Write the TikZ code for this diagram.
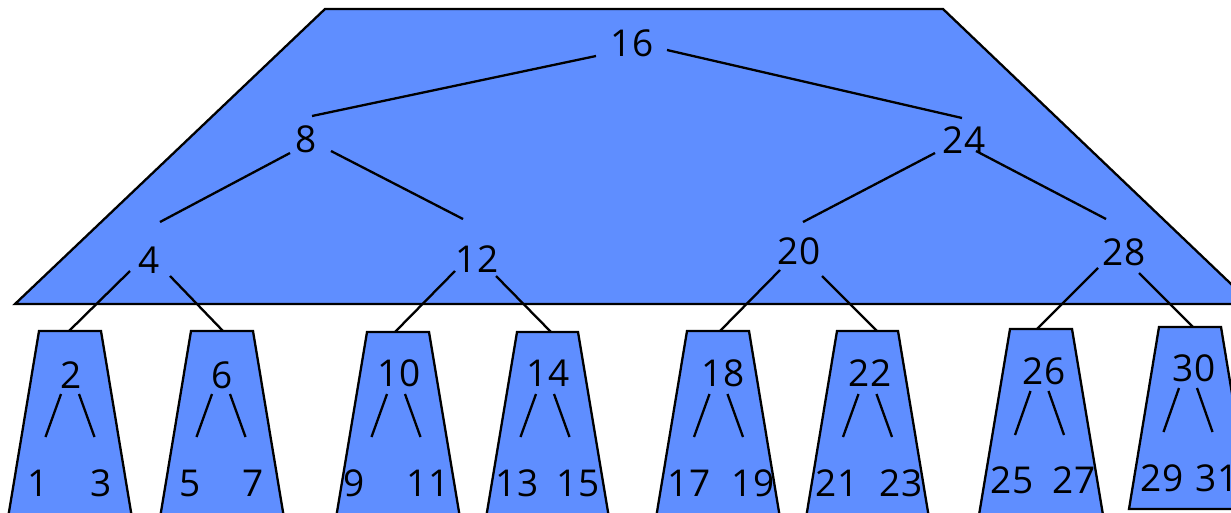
\documentclass[tikz,border=0pt]{standalone}
\usepackage{fontspec}
\setmainfont{Open Sans}
\definecolor{treeblue}{RGB}{95,142,255}

\begin{document}
\begin{tikzpicture}[x=1pt,y=-1pt,line width=2.3pt,
  part/.style={fill=treeblue,draw=black},
  key/.style={font=\fontsize{37}{42}\selectfont,inner sep=0pt}]
\clip (0,0) rectangle (1231,512);

% upper part of the tree
\filldraw[part] (325,9) -- (943,9) -- (1252,304) -- (15,304) -- cycle;

% lower parts
\filldraw[part] (39,331) -- (101,331) -- (132.5,521) -- (7.5,521) -- cycle;
\filldraw[part] (191,331) -- (253,331) -- (284.5,521) -- (159.5,521) -- cycle;
\filldraw[part] (367,332) -- (429,332) -- (460.5,521) -- (335.5,521) -- cycle;
\filldraw[part] (517,332) -- (578,332) -- (609.5,521) -- (485.5,521) -- cycle;
\filldraw[part] (687,331) -- (749,331) -- (780.5,521) -- (655.5,521) -- cycle;
\filldraw[part] (837,331) -- (898,331) -- (929.5,521) -- (805.5,521) -- cycle;
\filldraw[part] (1010,329) -- (1072,329) -- (1104,521) -- (978,521) -- cycle;
\filldraw[part] (1159,327) -- (1221,327) -- (1251,509) -- (1129,509) -- cycle;

\coordinate (t2) at (69,331);
\coordinate (t6) at (223,331);
\coordinate (t10) at (395,332);
\coordinate (t14) at (551,332);
\coordinate (t18) at (720,331);
\coordinate (t22) at (877,331);
\coordinate (t26) at (1037,329);
\coordinate (t30) at (1193,327);

\node[key] (n16) at (632,43) {16};
\node[key] (n8) at (306,139) {8};
\node[key] (n24) at (964,140) {24};
\node[key] (n4) at (149,260) {4};
\node[key] (n12) at (477,259) {12};
\node[key] (n20) at (799,251) {20};
\node[key] (n28) at (1124,252) {28};

\draw ([shift={(-36,13)}]n16.center) -- ([shift={(6,-23)}]n8.center);
\draw ([shift={(35,7)}]n16.center) -- ([shift={(-2,-22)}]n24.center);
\draw ([shift={(-16,14)}]n8.center) -- ([shift={(11,-38)}]n4.center);
\draw ([shift={(25,12)}]n8.center) -- ([shift={(-14,-40)}]n12.center);
\draw ([shift={(-29,13)}]n24.center) -- ([shift={(4,-29)}]n20.center);
\draw ([shift={(12,11)}]n24.center) -- ([shift={(-18,-33)}]n28.center);
\draw ([shift={(-19,11)}]n4.center) -- (t2);
\draw ([shift={(21,16)}]n4.center) -- (t6);
\draw ([shift={(-22,12)}]n12.center) -- (t10);
\draw ([shift={(19,17)}]n12.center) -- (t14);
\draw ([shift={(-19,19)}]n20.center) -- (t18);
\draw ([shift={(23,25)}]n20.center) -- (t22);
\draw ([shift={(-26,16)}]n28.center) -- (t26);
\draw ([shift={(15,21)}]n28.center) -- (t30);

% small trees
\node[key] (n2) at (71,375) {2};
\node[key] (n1) at (38,483) {1};
\node[key] (n3) at (101,483) {3};
\draw ([shift={(-10,19)}]n2.center) -- ([shift={(7.5,-46)}]n1.center);
\draw ([shift={(8,19)}]n2.center) -- ([shift={(-6.5,-46)}]n3.center);

\node[key] (n6) at (222,375) {6};
\node[key] (n5) at (190,483) {5};
\node[key] (n7) at (253,483) {7};
\draw ([shift={(-10,19)}]n6.center) -- ([shift={(6.5,-46)}]n5.center);
\draw ([shift={(8,19)}]n6.center) -- ([shift={(-7.5,-46)}]n7.center);

\node[key] (n10) at (399,373) {10};
\node[key] (n9) at (354,483) {9};
\node[key] (n11) at (428,483) {11};
\draw ([shift={(-12,21)}]n10.center) -- ([shift={(17.5,-46)}]n9.center);
\draw ([shift={(6,21)}]n10.center) -- ([shift={(-7.5,-46)}]n11.center);

\node[key] (n14) at (548,373) {14};
\node[key] (n13) at (517,483) {13};
\node[key] (n15) at (578,483) {15};
\draw ([shift={(-12,21)}]n14.center) -- ([shift={(3.5,-46)}]n13.center);
\draw ([shift={(6,21)}]n14.center) -- ([shift={(-8.5,-46)}]n15.center);

\node[key] (n18) at (723,373) {18};
\node[key] (n17) at (689,483) {17};
\node[key] (n19) at (753,483) {19};
\draw ([shift={(-13.5,21)}]n18.center) -- ([shift={(5,-46)}]n17.center);
\draw ([shift={(4.5,21)}]n18.center) -- ([shift={(-10,-46)}]n19.center);

\node[key] (n22) at (870,373) {22};
\node[key] (n21) at (837,483) {21};
\node[key] (n23) at (901,483) {23};
\draw ([shift={(-11.5,21)}]n22.center) -- ([shift={(6,-46)}]n21.center);
\draw ([shift={(6.5,21)}]n22.center) -- ([shift={(-9,-46)}]n23.center);

\node[key] (n26) at (1044,371) {26};
\node[key] (n25) at (1012,480) {25};
\node[key] (n27) at (1074,480) {27};
\draw ([shift={(-13.5,20)}]n26.center) -- ([shift={(3,-45)}]n25.center);
\draw ([shift={(4.5,20)}]n26.center) -- ([shift={(-10,-45)}]n27.center);

\node[key] (n30) at (1194,368) {30};
\node[key] (n29) at (1162,478) {29};
\node[key] (n31) at (1217,478) {31};
\draw ([shift={(-15,20)}]n30.center) -- ([shift={(1.5,-46)}]n29.center);
\draw ([shift={(3,20)}]n30.center) -- ([shift={(-4.5,-46)}]n31.center);
\end{tikzpicture}
\end{document}
